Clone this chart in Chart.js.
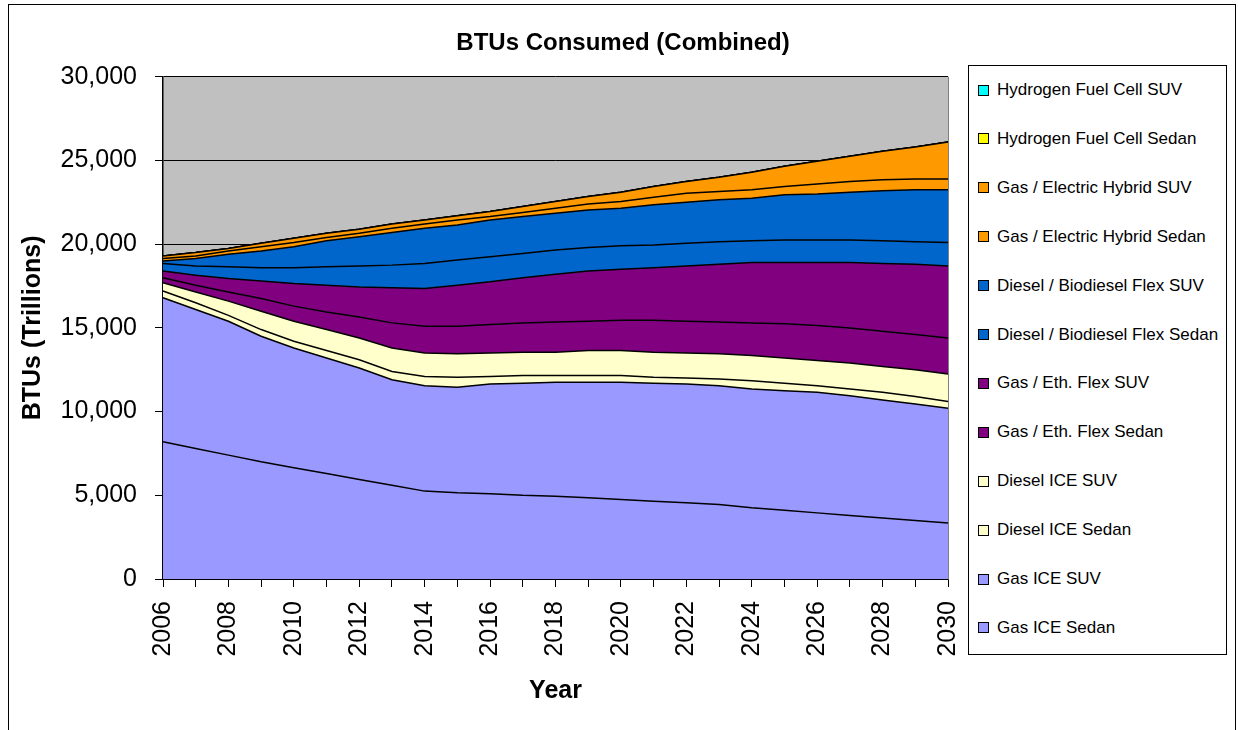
<!DOCTYPE html>
<html>
<head>
<meta charset="utf-8">
<script src="https://cdn.jsdelivr.net/npm/chart.js@4.4.1/dist/chart.umd.min.js"></script>
<style>
    body { margin: 0; background: #ffffff; }
    .wrap { position: relative; width: 1238px; height: 730px; overflow: hidden; font-family: "Liberation Sans", Arial, sans-serif; }
    .frame { position: absolute; left: 8px; top: 4px; width: 1228px; height: 760px; border: 1.5px solid #000; box-sizing: border-box; }
    #chart { position: absolute; left: 0; top: 0; }
    .legend { position: absolute; left: 968px; top: 65px; width: 259px; height: 590px; border: 1px solid #000; box-sizing: border-box; background: #fff; }
    .legend-item { position: absolute; left: 9px; height: 20px; display: flex; align-items: center; font-size: 17px; color: #000; white-space: nowrap; }
    .legend-item span.box { width: 9px; height: 9px; border: 1px solid #000; margin-right: 8px; }
</style>
</head>
<body>
<div class="wrap">
    <div class="frame"></div>
    <canvas id="chart" width="1238" height="730"></canvas>
    <div class="legend" id="legend"></div>
</div>
<script>
const years = ['2006', '2007', '2008', '2009', '2010', '2011', '2012', '2013', '2014', '2015', '2016', '2017',
    '2018', '2019', '2020', '2021', '2022', '2023', '2024', '2025', '2026', '2027', '2028', '2029', '2030'];

// values per series, bottom of the stack first
const gasIceSedan = [8200, 7800, 7400, 7000, 6650, 6300, 5950, 5600, 5250, 5150, 5100, 5000,
    4950, 4850, 4750, 4650, 4550, 4450, 4250, 4100, 3950, 3800, 3650, 3500, 3350];
const gasIceSuv = [8600, 8300, 8000, 7500, 7150, 6900, 6650, 6300, 6300, 6300, 6550, 6700,
    6800, 6900, 7000, 7050, 7100, 7100, 7100, 7150, 7200, 7150, 7050, 6950, 6850];
const dieselIceSedan = [400, 400, 350, 400, 400, 450, 500, 500, 550, 600, 450, 450,
    400, 400, 400, 350, 350, 400, 500, 450, 400, 400, 450, 450, 400];
const dieselIceSuv = [500, 650, 850, 1100, 1200, 1250, 1300, 1400, 1400, 1400, 1400, 1400,
    1400, 1500, 1500, 1500, 1500, 1500, 1500, 1500, 1500, 1550, 1550, 1600, 1650];
const gasEthSedan = [300, 400, 550, 750, 900, 1050, 1250, 1500, 1600, 1650, 1700, 1750,
    1800, 1750, 1800, 1900, 1900, 1900, 1950, 2050, 2100, 2100, 2100, 2100, 2150];
const gasEthSuv = [400, 600, 800, 1050, 1350, 1600, 1800, 2100, 2250, 2450, 2550, 2700,
    2850, 3000, 3050, 3150, 3300, 3450, 3600, 3650, 3750, 3900, 4050, 4200, 4300];
const dieselBioSedan = [450, 550, 700, 800, 950, 1100, 1250, 1350, 1500, 1500, 1500, 1450,
    1450, 1400, 1400, 1350, 1350, 1350, 1300, 1350, 1350, 1350, 1350, 1350, 1400];
const dieselBioSuv = [150, 450, 750, 1000, 1250, 1550, 1750, 1950, 2100, 2100, 2200, 2200,
    2200, 2250, 2250, 2400, 2450, 2500, 2550, 2700, 2750, 2850, 3000, 3100, 3150];
const hybridSedan = [150, 150, 200, 250, 250, 200, 200, 250, 250, 300, 200, 250,
    300, 350, 400, 450, 550, 500, 500, 500, 600, 650, 650, 650, 650];
const hybridSuv = [150, 200, 150, 200, 250, 250, 250, 250, 250, 250, 300, 350,
    400, 450, 550, 650, 700, 850, 1050, 1200, 1350, 1500, 1700, 1900, 2200];
const hydrogenSedan = [0, 0, 0, 0, 0, 0, 0, 0, 0, 0, 0, 0, 0, 0, 0, 0, 0, 0, 0, 0, 0, 0, 0, 0, 0];
const hydrogenSuv = [0, 0, 0, 0, 0, 0, 0, 0, 0, 0, 0, 0, 0, 0, 0, 0, 0, 0, 0, 0, 0, 0, 0, 0, 0];

const yTicks = [0, 5000, 10000, 15000, 20000, 25000, 30000];

const FONT = "'Liberation Sans', Arial, sans-serif";

const series = [
    { label: 'Gas ICE Sedan', data: gasIceSedan, color: '#9999FF' },
    { label: 'Gas ICE SUV', data: gasIceSuv, color: '#9999FF' },
    { label: 'Diesel ICE Sedan', data: dieselIceSedan, color: '#FFFFCC' },
    { label: 'Diesel ICE SUV', data: dieselIceSuv, color: '#FFFFCC' },
    { label: 'Gas / Eth. Flex Sedan', data: gasEthSedan, color: '#800080' },
    { label: 'Gas / Eth. Flex SUV', data: gasEthSuv, color: '#800080' },
    { label: 'Diesel / Biodiesel Flex Sedan', data: dieselBioSedan, color: '#0066CC' },
    { label: 'Diesel / Biodiesel Flex SUV', data: dieselBioSuv, color: '#0066CC' },
    { label: 'Gas / Electric Hybrid Sedan', data: hybridSedan, color: '#FF9900' },
    { label: 'Gas / Electric Hybrid SUV', data: hybridSuv, color: '#FF9900' },
    { label: 'Hydrogen Fuel Cell Sedan', data: hydrogenSedan, color: '#FFFF00' },
    { label: 'Hydrogen Fuel Cell SUV', data: hydrogenSuv, color: '#00FFFF' }
];

// gray plot background
const plotBackground = {
    id: 'plotBackground',
    beforeDraw(chart) {
        const { ctx, chartArea } = chart;
        ctx.save();
        ctx.fillStyle = '#C0C0C0';
        ctx.fillRect(chartArea.left, chartArea.top, chartArea.right - chartArea.left, chartArea.bottom - chartArea.top);
        ctx.restore();
    },
    afterDatasetsDraw(chart) {
        const { ctx, chartArea } = chart;
        ctx.save();
        ctx.strokeStyle = '#808080';
        ctx.lineWidth = 1;
        ctx.beginPath();
        ctx.moveTo(chartArea.right + 0.5, chartArea.top);
        ctx.lineTo(chartArea.right + 0.5, chartArea.bottom);
        ctx.stroke();
        ctx.restore();
    }
};

const ctx = document.getElementById('chart').getContext('2d');
const chart = new Chart(ctx, {
    type: 'line',
    data: {
        labels: years,
        datasets: series.map((s, i) => ({
            label: s.label,
            data: s.data,
            backgroundColor: s.color,
            borderColor: '#000000',
            borderWidth: 1.5,
            pointRadius: 0,
            tension: 0,
            fill: i === 0 ? 'origin' : '-1'
        }))
    },
    options: {
        responsive: false,
        animation: false,
        layout: { padding: { left: 8, right: 0, top: 0, bottom: 0 } },
        plugins: {
            legend: { display: false },
            tooltip: { enabled: false },
            title: {
                display: true,
                text: 'BTUs Consumed (Combined)',
                color: '#000',
                font: { family: FONT, size: 24, weight: 'bold' },
                padding: { top: 29, bottom: 19 }
            }
        },
        scales: {
            x: {
                offset: false,
                grid: { display: true, drawOnChartArea: false, drawTicks: true, tickLength: 8, color: '#000' },
                border: { color: '#000', width: 1.5 },
                ticks: {
                    autoSkip: false,
                    minRotation: 90,
                    maxRotation: 90,
                    padding: 14,
                    color: '#000',
                    font: { family: FONT, size: 25 },
                    callback: function (value, index) {
                        return index % 2 === 0 ? years[index] : '';
                    }
                },
                title: {
                    display: true,
                    text: 'Year',
                    color: '#000',
                    font: { family: FONT, size: 25, weight: 'bold' },
                    padding: { top: 0, bottom: 24 }
                },
                afterFit(scale) { scale.height = 151; }
            },
            y: {
                stacked: true,
                min: 0,
                max: 30000,
                afterBuildTicks(scale) { scale.ticks = yTicks.map(v => ({ value: v })); },
                grid: { color: '#000', lineWidth: 1, drawTicks: true, tickLength: 8 },
                border: { color: '#000', width: 1.5 },
                ticks: {
                    padding: 18,
                    color: '#000',
                    font: { family: FONT, size: 25 },
                    callback: v => v.toLocaleString('en-US')
                },
                title: {
                    display: true,
                    text: 'BTUs (Trillions)',
                    color: '#000',
                    font: { family: FONT, size: 25, weight: 'bold' },
                    padding: { top: 10, bottom: 0 }
                },
                afterFit(scale) { scale.width = 155; }
            },
            // empty right axis that reserves the space for the legend box
            legendSpace: {
                position: 'right',
                display: true,
                grid: { display: false },
                border: { display: false },
                ticks: { display: false },
                afterFit(scale) { scale.width = 290; }
            }
        }
    },
    plugins: [plotBackground]
});

// legend, top entry is the top of the stack
const legend = document.getElementById('legend');
series.slice().reverse().forEach((s, i) => {
    const item = document.createElement('div');
    item.className = 'legend-item';
    item.style.top = (14 + i * 48.9) + 'px';
    item.innerHTML = `<span class="box" style="background:${s.color}"></span>${s.label}`;
    legend.appendChild(item);
});
</script>
</body>
</html>
